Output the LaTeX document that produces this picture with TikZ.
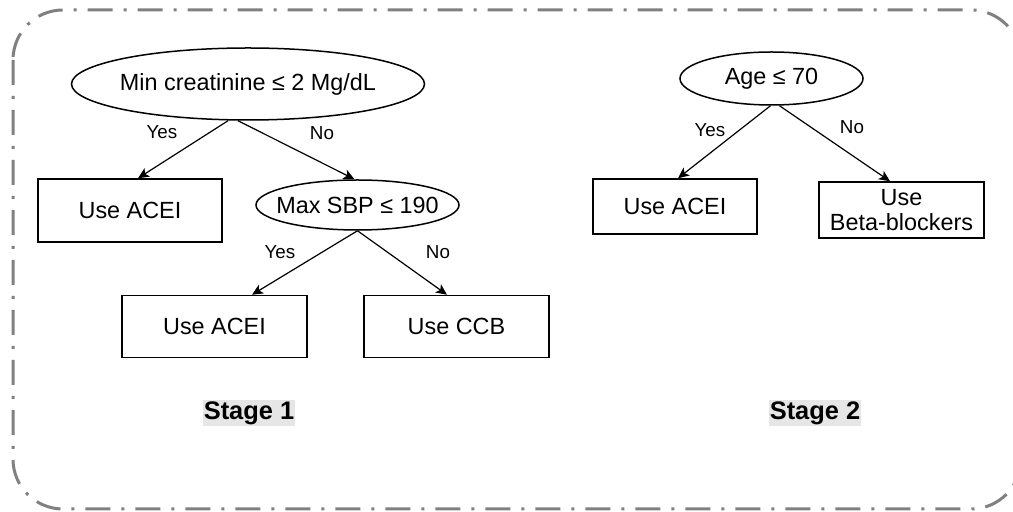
\documentclass[tikz,border=0pt]{standalone}
\usepackage{fontspec}
\setmainfont{Liberation Sans}
\usetikzlibrary{shapes.geometric,arrows.meta,calc}
\definecolor{frame}{HTML}{808080}
\definecolor{hilite}{HTML}{E6E6E6}
\newcommand{\zerow}[1]{\makebox[0pt]{#1}}
\tikzset{
  cond/.style={ellipse,draw,line width=0.75pt,inner sep=0pt,font=\fontsize{11.7}{14}\selectfont},
  leaf/.style={rectangle,draw,line width=0.75pt,inner sep=0pt,align=center,font=\fontsize{11.7}{12.6}\selectfont},
  arr/.style={line width=0.6pt,-{Stealth[length=5.5pt,width=5pt,inset=1.4pt]}},
  lab/.style={font=\fontsize{9.4}{11}\selectfont,inner sep=0pt},
  stage/.style={fill=hilite,inner sep=0.6pt,font=\fontsize{12.7}{15}\selectfont\bfseries},
  border/.style={draw=frame,line width=1.5pt,rounded corners=25pt,
    dash pattern=on 12.5pt off 5.5pt on 1.5pt off 5.5pt}
}
\begin{document}
\begin{tikzpicture}[x=0.5pt,y=-0.5pt]
\useasboundingbox (0,0) rectangle (1013,512);
\draw[border] (13,10) rectangle (1021,509);
% Stage 1
\node[cond,minimum width=176.5pt,minimum height=36pt] (e1) at (248,84) {\zerow{Min creatinine ≤ 2 Mg/dL}};
\node[leaf,minimum width=92pt,minimum height=31.5pt] (r1) at (130,210.5) {Use ACEI};
\node[cond,minimum width=101.5pt,minimum height=25pt] (e2) at (357.5,205) {\zerow{Max SBP ≤ 190}};
\node[leaf,minimum width=92.5pt,minimum height=31pt] (r2) at (214.5,326.5) {Use ACEI};
\node[leaf,minimum width=92.5pt,minimum height=31pt] (r3) at (456.5,326.5) {Use CCB};
\draw[arr] ($(e1.south)+(-20,0)$) -- ($(r1.north)+(8,0)$);
\draw[arr] ($(e1.south)+(-10,0)$) -- ($(e2.north)+(-3,0)$);
\draw[arr] (e2.south) -- ($(r2.north)+(37.5,0)$);
\draw[arr] (e2.south) -- ($(r3.north)+(-9.5,0)$);
\node[lab] (y1) at (162,132) {Yes};
\node[lab] (n1) at (322,133) {No};
\node[lab] (y2) at (280,252) {Yes};
\node[lab] (n2) at (438,252) {No};
\node[stage] (s1) at (249,413) {Stage 1};
% Stage 2
\node[cond,minimum width=91.5pt,minimum height=26.5pt] (e3) at (771.5,78.5) {\zerow{Age ≤ 70}};
\node[leaf,minimum width=82pt,minimum height=27.5pt] (r4) at (675,206.5) {Use ACEI};
\node[leaf,minimum width=82.5pt,minimum height=28pt] (r5) at (901.5,210) {Use\\Beta-blockers};
\draw[arr] ($(e3.south)+(-1,0)$) -- ($(r4.north)+(3,0)$);
\draw[arr] ($(e3.south)+(8,0)$) -- ($(r5.north)+(-11.5,0)$);
\node[lab] (y3) at (710,130) {Yes};
\node[lab] (n3) at (852,127) {No};
\node[stage] (s2) at (815,413) {Stage 2};
\end{tikzpicture}
\end{document}
